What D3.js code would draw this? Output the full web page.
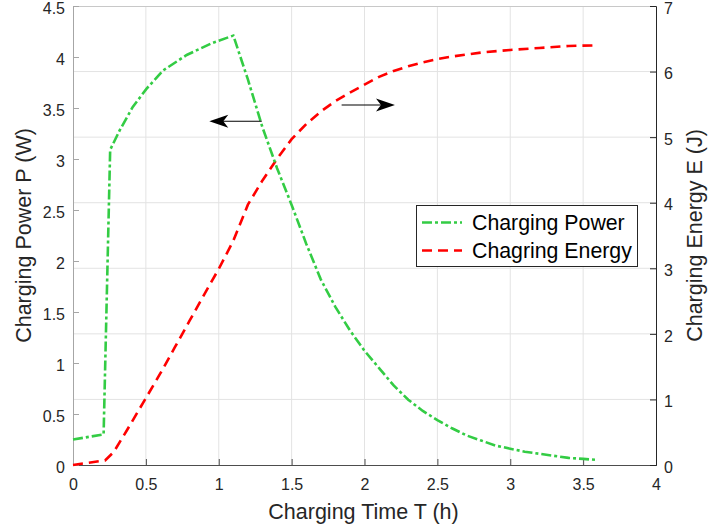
<!DOCTYPE html>
<html>
<head>
<meta charset="utf-8">
<script src="https://cdn.jsdelivr.net/npm/d3@7"></script>
<style>
  body { margin: 0; background: #fff; }
  text { font-family: "Liberation Sans", Arial, Helvetica, sans-serif; }
</style>
</head>
<body>
<div id="graph"></div>
<script>
// data
const powerT = [0, 0.21, 0.255, 0.32, 0.41, 0.505, 0.62, 0.78, 0.96, 1.1,
  1.2, 1.3, 1.4, 1.5, 1.6, 1.7, 1.8, 1.9, 2.0, 2.1, 2.2, 2.3, 2.4, 2.5,
  2.6, 2.7, 2.8, 2.9, 3.0, 3.1, 3.2, 3.3, 3.4, 3.5, 3.59];
const powerP = [0.25, 0.30, 3.09, 3.28, 3.51, 3.69, 3.87, 4.02, 4.14, 4.21,
  3.78, 3.31, 2.91, 2.55, 2.17, 1.82, 1.55, 1.32, 1.12, 0.95, 0.78, 0.64, 0.53, 0.44,
  0.36, 0.29, 0.24, 0.19, 0.16, 0.13, 0.11, 0.09, 0.07, 0.06, 0.05];

const energyT = [0, 0.22, 0.28, 0.37, 0.5, 0.6, 0.7, 0.8, 0.9, 1.0, 1.1,
  1.2, 1.3, 1.4, 1.5, 1.6, 1.7, 1.8, 1.9, 2.0, 2.1, 2.2, 2.3, 2.4, 2.5,
  2.6, 2.8, 3.0, 3.2, 3.4, 3.59];
const energyE = [0, 0.07, 0.2, 0.53, 1.02, 1.4, 1.8, 2.2, 2.6, 2.99, 3.42,
  3.97, 4.34, 4.67, 4.97, 5.20, 5.39, 5.55, 5.68, 5.80, 5.92, 6.01, 6.08, 6.14, 6.19,
  6.23, 6.29, 6.33, 6.36, 6.39, 6.40];

const xTicks = [0, 0.5, 1, 1.5, 2, 2.5, 3, 3.5, 4];
const leftTicks = [0, 0.5, 1, 1.5, 2, 2.5, 3, 3.5, 4, 4.5];
const rightTicks = [0, 1, 2, 3, 4, 5, 6, 7];

const seriesNames = ["Charging Power", "Chagring Energy"];
const seriesColors = ["#33cc44", "#ff0000"];
const seriesDash = ["10,3,3,3", "10,6"];

// annotation arrows (data coords)
const arrowLeft = { from: 1.295, to: 0.935, value: 3.37 };
const arrowRight = { from: 1.843, to: 2.209, value: 5.49 };

// dimensions
const width = 708, height = 531;
const margin = { top: 6, right: 52, bottom: 66, left: 73 };
const w = width - margin.left - margin.right;
const h = height - margin.top - margin.bottom;

const svg = d3.select("#graph").append("svg")
  .attr("width", width)
  .attr("height", height);

const g = svg.append("g")
  .attr("transform", "translate(" + margin.left + "," + margin.top + ")");

const x = d3.scaleLinear().domain([0, 4]).range([0, w]);
const yL = d3.scaleLinear().domain([0, 4.5]).range([h, 0]);
const yR = d3.scaleLinear().domain([0, 7]).range([h, 0]);

// grid (vertical at x ticks, horizontal at right-axis ticks)
g.append("g").selectAll("line").data(xTicks.slice(1, -1)).enter().append("line")
  .attr("x1", d => x(d)).attr("x2", d => x(d))
  .attr("y1", 0).attr("y2", h)
  .attr("stroke", "#e3e3e3").attr("stroke-width", 1);
g.append("g").selectAll("line").data(rightTicks.slice(1, -1)).enter().append("line")
  .attr("x1", 0).attr("x2", w)
  .attr("y1", d => yR(d)).attr("y2", d => yR(d))
  .attr("stroke", "#e3e3e3").attr("stroke-width", 1);

// top box line
g.append("line").attr("x1", 0).attr("x2", w).attr("y1", 0.5).attr("y2", 0.5)
  .attr("stroke", "#c8c8c8");

// axes
const xAxis = g.append("g")
  .attr("transform", "translate(0," + h + ")")
  .call(d3.axisBottom(x).tickValues(xTicks).tickSize(-6).tickPadding(14)
    .tickFormat(d3.format("")));
const leftAxis = g.append("g")
  .call(d3.axisLeft(yL).tickValues(leftTicks).tickSize(-6).tickPadding(8)
    .tickFormat(d3.format("")));
const rightAxis = g.append("g")
  .attr("transform", "translate(" + w + ",0)")
  .call(d3.axisRight(yR).tickValues(rightTicks).tickSize(-6).tickPadding(8)
    .tickFormat(d3.format("")));

[xAxis, leftAxis, rightAxis].forEach(a => {
  a.selectAll("text").attr("font-size", 16).attr("fill", "#262626")
    .style("font-family", '"Liberation Sans", Arial, sans-serif');
});
leftAxis.selectAll("text").attr("dy", "0.45em");
rightAxis.selectAll("text").attr("dy", "0.45em");
xAxis.select(".domain").attr("stroke", "#4d4d4d");
xAxis.selectAll(".tick line").attr("stroke", "#4d4d4d");
leftAxis.select(".domain").attr("stroke", "#a6a6a6");
leftAxis.selectAll(".tick line").attr("stroke", "#a6a6a6");
rightAxis.select(".domain").attr("stroke", "#262626");
rightAxis.selectAll(".tick line").attr("stroke", "#262626");

// lines
const powerLine = d3.line()
  .x((d, i) => x(powerT[i]))
  .y(d => yL(d));
const energyLine = d3.line()
  .x((d, i) => x(energyT[i]))
  .y(d => yR(d));

g.append("path")
  .datum(energyE)
  .attr("d", energyLine)
  .attr("fill", "none")
  .attr("stroke", seriesColors[1])
  .attr("stroke-width", 2.6)
  .attr("stroke-dasharray", seriesDash[1]);

g.append("path")
  .datum(powerP)
  .attr("d", powerLine)
  .attr("fill", "none")
  .attr("stroke", seriesColors[0])
  .attr("stroke-width", 2.6)
  .attr("stroke-dasharray", seriesDash[0]);

// arrows
function arrow(from, to, yv) {
  const x1 = x(from), x2 = x(to);
  const dir = Math.sign(x2 - x1);
  g.append("line")
    .attr("x1", x1).attr("x2", x2 - dir * 8)
    .attr("y1", yv).attr("y2", yv)
    .attr("stroke", "#000").attr("stroke-width", 1.2);
  const len = 19, half = 6.5, notch = 5;
  const pts = [
    [x2, yv],
    [x2 - dir * len, yv - half],
    [x2 - dir * (len - notch), yv],
    [x2 - dir * len, yv + half]
  ];
  g.append("path")
    .attr("d", "M" + pts.map(p => p.join(",")).join("L") + "Z")
    .attr("fill", "#000");
}
arrow(arrowLeft.from, arrowLeft.to, yL(arrowLeft.value));
arrow(arrowRight.from, arrowRight.to, yR(arrowRight.value));

// axis labels
svg.append("text")
  .attr("x", margin.left + w / 2 - 1)
  .attr("y", 519)
  .attr("text-anchor", "middle")
  .attr("font-size", 21.5)
  .attr("fill", "#262626")
  .text("Charging Time T (h)");

svg.append("text")
  .attr("transform", "translate(31," + (margin.top + h / 2) + ") rotate(-90)")
  .attr("text-anchor", "middle")
  .attr("font-size", 21.5)
  .attr("fill", "#262626")
  .text("Charging Power P (W)");

svg.append("text")
  .attr("transform", "translate(702," + (margin.top + h / 2) + ") rotate(-90)")
  .attr("text-anchor", "middle")
  .attr("font-size", 21.5)
  .attr("fill", "#262626")
  .text("Charging Energy E (J)");

// legend
const legend = svg.append("g").attr("transform", "translate(416,205)");
legend.append("rect")
  .attr("x", 0.5).attr("y", 0.5)
  .attr("width", 221).attr("height", 61)
  .attr("fill", "#fff")
  .attr("stroke", "#262626")
  .attr("stroke-width", 1);
seriesNames.forEach((name, i) => {
  const yy = 17.5 + i * 28;
  legend.append("line")
    .attr("x1", 6).attr("x2", 46)
    .attr("y1", yy).attr("y2", yy)
    .attr("stroke", seriesColors[i])
    .attr("stroke-width", 2.6)
    .attr("stroke-dasharray", seriesDash[i]);
  legend.append("text")
    .attr("x", 56).attr("y", yy + 7.5)
    .attr("font-size", 21.3)
    .attr("fill", "#000")
    .text(name);
});
</script>
</body>
</html>
